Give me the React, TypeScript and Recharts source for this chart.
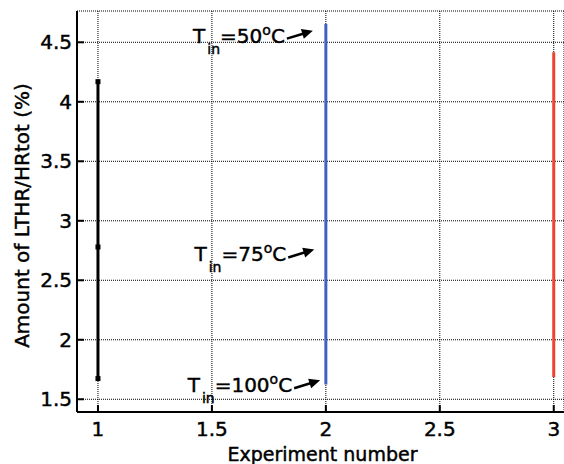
import { ComposedChart, Line, XAxis, YAxis, CartesianGrid, ReferenceDot } from "recharts"

// experiment number on x, LTHR/HRtot share on y
const experimentNumbers = [1, 2, 3]
const exp1Values = [1.674, 2.78, 4.169]
const exp2Values = [1.624, 4.654]
const exp3Values = [1.688, 4.416]

const xTicks = [1, 1.5, 2, 2.5, 3]
const yTicks = [1.5, 2, 2.5, 3, 3.5, 4, 4.5]

// inlet temperature notes, arrow tip in data units
const inletTemps = ["50", "75", "100"]
const noteX = [1.943, 1.949, 1.975]
const noteY = [4.598, 2.759, 1.66]

const FONT = "'DejaVu Sans', sans-serif"
const heavy = { stroke: "#000", strokeWidth: 0.45 }

const exp1Data = exp1Values.map(y => ({ x: experimentNumbers[0], y }))
const exp2Data = exp2Values.map(y => ({ x: experimentNumbers[1], y }))
const exp3Data = exp3Values.map(y => ({ x: experimentNumbers[2], y }))

function SquareDot(props: any) {
  const { cx, cy, index } = props
  return <rect key={"sq" + index} x={cx - 2.5} y={cy - 2.5} width={5} height={5} fill="#000" />
}

function YTick(props: any) {
  const { x, y, payload } = props
  return (
    <g>
      <line x1={x} y1={y} x2={x + 7} y2={y} stroke="#000" strokeWidth={2} />
      <text x={x - 5} y={y} dy="0.36em" textAnchor="end" fontSize={20} fontFamily={FONT} fill="#000" {...heavy}>
        {payload.value}
      </text>
    </g>
  )
}

function XTick(props: any) {
  const { x, y, payload } = props
  return (
    <g>
      <line x1={x} y1={y} x2={x} y2={y - 7} stroke="#000" strokeWidth={2} />
      <text x={x} y={y + 24} textAnchor="middle" fontSize={20} fontFamily={FONT} fill="#000" {...heavy}>
        {payload.value}
      </text>
    </g>
  )
}

function TempNote(props: any) {
  const { cx, cy, temp } = props
  return (
    <g>
      <text x={cx - 28} y={cy + 12} textAnchor="end" fontSize={20} fontFamily={FONT} fill="#000" {...heavy}>
        T
        <tspan dx={2} dy={11} fontSize={14} fill="#000">in</tspan>
        <tspan dy={-11} fontSize={20} fill="#000">={temp}</tspan>
        <tspan dy={-8} fontSize={14} fill="#000">o</tspan>
        <tspan dy={8} fontSize={20} fill="#000">C</tspan>
      </text>
      <line x1={cx - 26} y1={cy + 8} x2={cx - 9} y2={cy + 2.8} stroke="#000" strokeWidth={2.5} />
      <polygon points={`${cx},${cy} ${cx - 9},${cy + 8} ${cx - 12},${cy - 1.6}`} fill="#000" />
    </g>
  )
}

export default function App() {
  return (
    <div style={{ position: "absolute", left: 0, top: 0, background: "#fff" }}>
      <ComposedChart
        width={564}
        height={464}
        margin={{ top: 11, right: 0, bottom: 0, left: 0 }}
      >
        <CartesianGrid stroke="#000" strokeDasharray="1 1" strokeWidth={1} />

        <XAxis
          type="number"
          dataKey="x"
          domain={[0.908, 3.045]}
          allowDataOverflow
          ticks={xTicks}
          interval={0}
          height={52}
          tickSize={0}
          tickMargin={0}
          tickLine={false}
          axisLine={{ stroke: "#000", strokeWidth: 2 }}
          tick={<XTick />}
          label={{
            value: "Experiment number",
            position: "center",
            dx: 2,
            dy: 16,
            style: { fontSize: 19, fontFamily: FONT, fill: "#000", ...heavy }
          }}
        />

        <YAxis
          type="number"
          dataKey="y"
          domain={[1.393, 4.763]}
          allowDataOverflow
          ticks={yTicks}
          interval={0}
          width={77}
          tickSize={0}
          tickMargin={0}
          tickLine={false}
          axisLine={{ stroke: "#000", strokeWidth: 2 }}
          tick={<YTick />}
          label={{
            value: "Amount of LTHR/HRtot (%)",
            angle: -90,
            position: "center",
            dx: -17,
            dy: 4,
            style: { fontSize: 20, fontFamily: FONT, fill: "#000", ...heavy }
          }}
        />

        <Line
          data={exp1Data}
          dataKey="y"
          type="linear"
          stroke="#000"
          strokeWidth={3}
          dot={<SquareDot />}
          isAnimationActive={false}
        />
        <Line
          data={exp2Data}
          dataKey="y"
          type="linear"
          stroke="#4262c0"
          strokeWidth={3}
          dot={false}
          isAnimationActive={false}
        />
        <Line
          data={exp3Data}
          dataKey="y"
          type="linear"
          stroke="#f0402f"
          strokeWidth={3}
          dot={false}
          isAnimationActive={false}
        />

        {inletTemps.map((t, i) => (
          <ReferenceDot
            key={t}
            x={noteX[i]}
            y={noteY[i]}
            r={0}
            shape={(p: any) => <TempNote {...p} temp={t} />}
          />
        ))}
      </ComposedChart>
    </div>
  )
}
